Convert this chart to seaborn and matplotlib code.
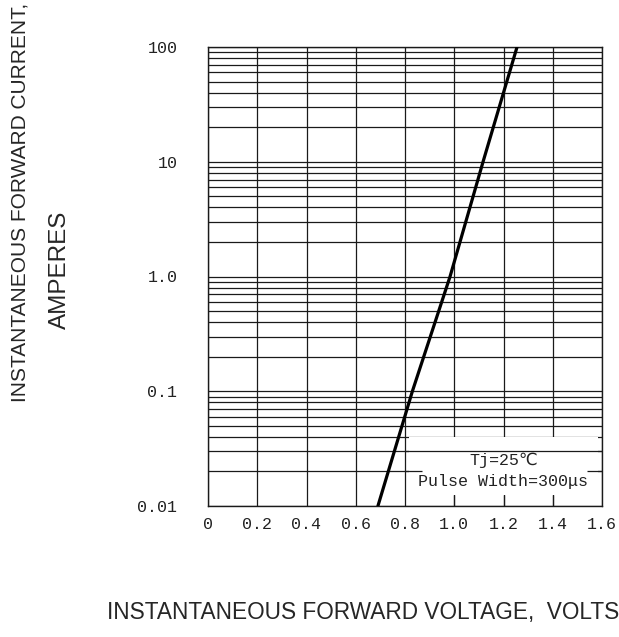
import numpy as np
import pandas as pd
import matplotlib
matplotlib.use("Agg")
import matplotlib.pyplot as plt
import seaborn as sns
from matplotlib.patches import Rectangle
from matplotlib.ticker import LogLocator, FixedLocator, NullFormatter

# forward characteristic
voltage = [0.69, 0.83, 0.983, 1.117, 1.255]
current = [0.01, 0.1, 1.0, 10.0, 100.0]

x_ticks = [0, 0.2, 0.4, 0.6, 0.8, 1.0, 1.2, 1.4, 1.6]
x_labels = ["0", "0.2", "0.4", "0.6", "0.8", "1.0", "1.2", "1.4", "1.6"]
y_ticks = [0.01, 0.1, 1, 10, 100]
y_labels = ["0.01", "0.1", "1.0", "10", "100"]

note_lines = ["Tj=25\u2103", "Pulse Width=300\u03bcs"]

df = pd.DataFrame({"voltage": voltage, "current": current})

sns.set_style("white")
mono = ["Liberation Mono", "DejaVu Sans Mono", "DejaVu Sans"]

fig = plt.figure(figsize=(6.19, 6.37), dpi=100)
ax = fig.add_axes([208 / 619, 1 - 506 / 637, 394 / 619, 459 / 637])

ax.set_yscale("log")
ax.set_xlim(0, 1.6)
ax.set_ylim(0.01, 100)

ax.xaxis.set_major_locator(FixedLocator(x_ticks))
ax.set_xticklabels(x_labels)
ax.yaxis.set_major_locator(FixedLocator(y_ticks))
ax.yaxis.set_minor_locator(LogLocator(base=10, subs=np.arange(2, 10)))
ax.yaxis.set_minor_formatter(NullFormatter())
ax.set_yticklabels(y_labels)

ax.grid(True, which="both", color="#1a1a1a", linewidth=0.9)
ax.set_axisbelow(True)
for s in ax.spines.values():
    s.set_color("#1a1a1a")
    s.set_linewidth(1.0)

ax.tick_params(axis="both", which="both", length=0)
ax.tick_params(axis="x", pad=8)
ax.tick_params(axis="y", pad=22)
for lab in ax.get_xticklabels() + ax.get_yticklabels():
    lab.set_family(mono)
    lab.set_fontsize(12)
    lab.set_color("#222222")

# white panel behind the test conditions
ax.add_patch(Rectangle((0.815, 0.0124), 0.77, 0.0276, facecolor="white",
                       edgecolor="none", zorder=1.5))
ax.hlines(0.03, 0.8, 1.6, color="#1a1a1a", linewidth=0.9, zorder=1.6)
ax.hlines([0.02, 0.02], [0.8, 1.54], [0.87, 1.6], color="#1a1a1a",
          linewidth=0.9, zorder=1.6)
ax.vlines([1.0, 1.2, 1.4], 0.01, 0.0124, color="#1a1a1a", linewidth=0.9,
          zorder=1.6)

sns.lineplot(data=df, x="voltage", y="current", ax=ax, color="black",
             linewidth=2.3, zorder=3)

ax.text(1.2, 0.0251, note_lines[0], ha="center", va="center",
        family=mono, fontsize=12, color="#222222", zorder=4)
ax.text(1.2, 0.0162, note_lines[1], ha="center", va="center",
        family=mono, fontsize=12, color="#222222", zorder=4)

ax.set_xlabel("")
ax.set_ylabel("")

fig.text(107 / 619, 1 - 612 / 637, "INSTANTANEOUS FORWARD VOLTAGE,  VOLTS",
         ha="left", va="center", fontsize=16.3, family="Liberation Sans")
fig.text(20 / 619, 1 - 202 / 637, "INSTANTANEOUS FORWARD CURRENT,",
         rotation=90, ha="center", va="center", fontsize=15,
         family="Liberation Sans")
fig.text(60 / 619, 1 - 270 / 637, "AMPERES", rotation=90, ha="center",
         va="center", fontsize=17.5, family="Liberation Sans")

fig.savefig("out.png", dpi=100)
